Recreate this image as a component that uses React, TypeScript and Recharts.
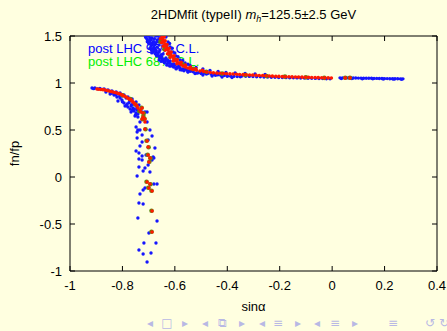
import { ScatterChart, Scatter, XAxis, YAxis, ReferenceArea } from 'recharts'

const X_TICKS = [-1, -0.8, -0.6, -0.4, -0.2, 0, 0.2, 0.4]
const Y_TICKS = [-1, -0.5, 0, 0.5, 1, 1.5]

// post LHC 95% C.L. (blue)
const BLUE_95: [number, number][] = [
  // upper branch, top blob
  [-0.695, 1.479], [-0.683, 1.436], [-0.691, 1.394], [-0.676, 1.362], [-0.683, 1.33], [-0.668, 1.298],
  [-0.657, 1.266], [-0.645, 1.234], [-0.63, 1.202], [-0.615, 1.181], [-0.596, 1.16], [-0.573, 1.138],
  [-0.55, 1.117], [-0.523, 1.101], [-0.493, 1.085], [-0.458, 1.074], [-0.42, 1.064], [-0.382, 1.059],
  [-0.668, 1.457], [-0.66, 1.404], [-0.664, 1.5], [-0.657, 1.351], [-0.645, 1.309], [-0.634, 1.266],
  [-0.618, 1.234], [-0.603, 1.202], [-0.584, 1.181], [-0.561, 1.16], [-0.535, 1.138],
  [-0.634, 1.489], [-0.626, 1.436], [-0.618, 1.383], [-0.607, 1.33], [-0.596, 1.287], [-0.58, 1.245],
  [-0.561, 1.213], [-0.542, 1.186], [-0.519, 1.165], [-0.493, 1.149], [-0.466, 1.133], [-0.435, 1.122],
  [-0.405, 1.112], [-0.37, 1.106], [-0.332, 1.101], [-0.294, 1.096], [-0.256, 1.09],
  [-0.705, 1.46], [-0.7, 1.42], [-0.688, 1.48], [-0.675, 1.41], [-0.672, 1.5], [-0.69, 1.35],
  [-0.665, 1.32], [-0.65, 1.28], [-0.64, 1.25], [-0.625, 1.22], [-0.61, 1.2], [-0.59, 1.17],
  [-0.57, 1.15], [-0.545, 1.13], [-0.51, 1.11], [-0.48, 1.095], [-0.445, 1.082], [-0.4, 1.072],
  [-0.712, 1.49], [-0.7, 1.5], [-0.69, 1.46], [-0.678, 1.47], [-0.697, 1.44], [-0.684, 1.41],
  [-0.672, 1.43], [-0.68, 1.38], [-0.667, 1.38], [-0.671, 1.345], [-0.66, 1.33], [-0.675, 1.31],
  [-0.662, 1.29], [-0.652, 1.3], [-0.648, 1.255], [-0.637, 1.232], [-0.628, 1.245], [-0.62, 1.21],
  [-0.608, 1.185], [-0.6, 1.19], [-0.59, 1.165], [-0.58, 1.16], [-0.565, 1.145], [-0.555, 1.14],
  [-0.54, 1.125], [-0.53, 1.12], [-0.515, 1.105], [-0.5, 1.1],
  [-0.705, 1.44], [-0.708, 1.475], [-0.695, 1.455], [-0.69, 1.42], [-0.695, 1.37], [-0.685, 1.36],
  [-0.678, 1.34], [-0.688, 1.32], [-0.67, 1.29], [-0.658, 1.275], [-0.66, 1.245], [-0.652, 1.23],
  [-0.64, 1.215], [-0.63, 1.19], [-0.62, 1.18], [-0.605, 1.17], [-0.595, 1.15], [-0.58, 1.14],
  [-0.565, 1.13], [-0.55, 1.12], [-0.68, 1.44], [-0.665, 1.44], [-0.66, 1.47], [-0.652, 1.5],
  [-0.62, 1.42], [-0.61, 1.37], [-0.6, 1.32], [-0.588, 1.28], [-0.57, 1.24], [-0.55, 1.2],
  // upper branch, lower edge of the band
  [-0.5, 1.112], [-0.487, 1.106], [-0.475, 1.1], [-0.462, 1.095], [-0.45, 1.09], [-0.437, 1.086],
  [-0.425, 1.082], [-0.412, 1.079], [-0.4, 1.076], [-0.387, 1.073], [-0.375, 1.07], [-0.362, 1.068],
  [-0.35, 1.066],
  [-0.344, 1.074], [-0.33, 1.072], [-0.316, 1.07], [-0.302, 1.069], [-0.288, 1.067], [-0.274, 1.066],
  [-0.26, 1.064], [-0.246, 1.063], [-0.232, 1.061], [-0.218, 1.06], [-0.204, 1.059], [-0.19, 1.058],
  [-0.176, 1.057], [-0.162, 1.056], [-0.148, 1.055], [-0.134, 1.054], [-0.12, 1.053], [-0.106, 1.052],
  [-0.092, 1.051], [-0.078, 1.05], [-0.064, 1.049], [-0.05, 1.048], [-0.036, 1.047], [-0.022, 1.046],
  [-0.008, 1.045],
  // right segment
  [0.03, 1.055], [0.04, 1.055], [0.05, 1.055], [0.06, 1.054], [0.07, 1.054], [0.08, 1.053],
  [0.09, 1.053], [0.1, 1.052], [0.11, 1.052], [0.12, 1.051], [0.13, 1.051], [0.14, 1.05],
  [0.15, 1.05], [0.16, 1.049], [0.17, 1.049], [0.18, 1.048], [0.19, 1.048], [0.2, 1.047],
  [0.21, 1.047], [0.22, 1.046], [0.23, 1.046], [0.24, 1.045], [0.25, 1.045], [0.26, 1.044],
  [0.27, 1.044], [0.035, 1.048], [0.075, 1.047], [0.115, 1.046], [0.155, 1.044], [0.195, 1.043],
  [0.235, 1.041], [0.265, 1.04],
  // lower branch, curved part
  [-0.916, 0.947], [-0.905, 0.947], [-0.886, 0.941], [-0.87, 0.936], [-0.855, 0.926], [-0.84, 0.915],
  [-0.824, 0.904], [-0.809, 0.894], [-0.794, 0.872], [-0.779, 0.851], [-0.763, 0.83], [-0.748, 0.798],
  [-0.737, 0.766], [-0.863, 0.904], [-0.847, 0.883], [-0.832, 0.872], [-0.821, 0.851], [-0.809, 0.84],
  [-0.802, 0.819], [-0.817, 0.809], [-0.794, 0.787], [-0.782, 0.777], [-0.79, 0.755], [-0.779, 0.745],
  [-0.767, 0.755], [-0.771, 0.723], [-0.76, 0.734], [-0.756, 0.702], [-0.767, 0.691], [-0.748, 0.681],
  [-0.752, 0.649], [-0.741, 0.67], [-0.714, 0.691], [-0.706, 0.585], [-0.695, 0.5], [-0.741, 0.5],
  [-0.91, 0.94], [-0.895, 0.938], [-0.878, 0.932], [-0.862, 0.92], [-0.847, 0.91], [-0.832, 0.896],
  [-0.816, 0.885], [-0.8, 0.863], [-0.786, 0.84], [-0.772, 0.81], [-0.757, 0.775], [-0.81, 0.86],
  [-0.825, 0.875], [-0.84, 0.89], [-0.8, 0.8], [-0.785, 0.76], [-0.775, 0.79], [-0.765, 0.77],
  [-0.755, 0.72], [-0.762, 0.71], [-0.745, 0.735], [-0.75, 0.66],
  // lower branch, tail
  [-0.744, 0.713], [-0.725, 0.691], [-0.706, 0.691], [-0.741, 0.638], [-0.721, 0.628], [-0.733, 0.585],
  [-0.748, 0.532], [-0.733, 0.5], [-0.744, 0.479], [-0.725, 0.447], [-0.744, 0.415], [-0.725, 0.372],
  [-0.702, 0.394], [-0.687, 0.436], [-0.733, 0.33], [-0.748, 0.277], [-0.737, 0.255], [-0.725, 0.223],
  [-0.71, 0.234], [-0.683, 0.213], [-0.68, 0.202], [-0.737, 0.191], [-0.725, 0.181], [-0.687, 0.181],
  [-0.676, 0.309], [-0.702, 0.128], [-0.737, 0.106], [-0.714, 0.096], [-0.721, 0.064], [-0.695, 0.053],
  [-0.744, 0.011], [-0.68, -0.074], [-0.668, -0.074], [-0.721, -0.138], [-0.714, -0.117], [-0.733, -0.181],
  [-0.737, -0.277], [-0.721, -0.287], [-0.741, -0.436], [-0.668, -0.468], [-0.699, -0.596], [-0.718, -0.702],
  [-0.672, -0.702], [-0.737, -0.777], [-0.691, -0.809], [-0.721, -0.819], [-0.706, -0.904],
]

// post LHC 68% C.L. (green)
const GREEN_68: [number, number][] = [
  [-0.655, 1.44], [-0.64, 1.36], [-0.62, 1.3], [-0.6, 1.25], [-0.57, 1.2], [-0.53, 1.15],
  [-0.48, 1.12], [-0.42, 1.1], [-0.33, 1.085], [-0.25, 1.075], [-0.18, 1.068], [-0.1, 1.06], [-0.03, 1.055],
  [0.05, 1.056], [0.068, 1.056],
  [-0.8, 0.87], [-0.77, 0.83], [-0.75, 0.77], [-0.735, 0.7], [-0.72, 0.65],
  [-0.727, 0.737], [-0.719, 0.678], [-0.723, 0.614], [-0.716, 0.62], [-0.712, 0.508], [-0.708, 0.386],
  [-0.7, 0.316], [-0.704, 0.237], [-0.693, 0.199], [-0.697, 0.163], [-0.708, -0.05], [-0.693, -0.077],
  [-0.701, -0.114], [-0.689, -0.146], [-0.689, -0.359], [-0.689, -0.582],
]

// best region (red)
const RED_BEST: [number, number][] = [
  // upper branch
  [-0.649, 1.5], [-0.645, 1.457], [-0.638, 1.415], [-0.63, 1.372], [-0.622, 1.33], [-0.611, 1.287],
  [-0.599, 1.245], [-0.584, 1.213], [-0.569, 1.181], [-0.55, 1.16], [-0.531, 1.144], [-0.504, 1.128],
  [-0.641, 1.49], [-0.637, 1.45], [-0.63, 1.41], [-0.622, 1.37], [-0.614, 1.33], [-0.603, 1.29],
  [-0.591, 1.25], [-0.576, 1.22], [-0.56, 1.19], [-0.54, 1.17], [-0.52, 1.15], [-0.495, 1.135],
  [-0.647, 1.478], [-0.642, 1.436], [-0.634, 1.393], [-0.626, 1.351], [-0.617, 1.308], [-0.605, 1.266],
  [-0.592, 1.229], [-0.577, 1.197], [-0.56, 1.17], [-0.541, 1.152], [-0.518, 1.136],
  [-0.655, 1.47], [-0.65, 1.43], [-0.644, 1.39], [-0.636, 1.35], [-0.628, 1.31], [-0.618, 1.27],
  [-0.606, 1.235], [-0.592, 1.205],
  [-0.49, 1.123], [-0.478, 1.117], [-0.465, 1.112], [-0.453, 1.108], [-0.44, 1.105], [-0.428, 1.103],
  [-0.415, 1.101], [-0.403, 1.099], [-0.39, 1.097], [-0.378, 1.095], [-0.365, 1.093], [-0.353, 1.091],
  [-0.34, 1.089], [-0.328, 1.087], [-0.315, 1.085], [-0.303, 1.084], [-0.29, 1.082], [-0.278, 1.08],
  [-0.265, 1.079], [-0.253, 1.077], [-0.24, 1.075], [-0.228, 1.073], [-0.215, 1.071], [-0.203, 1.07],
  [-0.19, 1.068], [-0.178, 1.067], [-0.165, 1.066], [-0.153, 1.065], [-0.14, 1.064], [-0.128, 1.063],
  [-0.115, 1.062], [-0.103, 1.061], [-0.09, 1.06], [-0.078, 1.059], [-0.065, 1.058], [-0.053, 1.057],
  [-0.04, 1.056], [-0.028, 1.055], [-0.015, 1.054], [-0.003, 1.053],
  [0.05, 1.054], [0.068, 1.054],
  // lower branch, curved part
  [-0.897, 0.936], [-0.882, 0.931], [-0.866, 0.926], [-0.851, 0.915], [-0.836, 0.904], [-0.821, 0.894],
  [-0.809, 0.883], [-0.798, 0.867], [-0.786, 0.851], [-0.775, 0.83], [-0.767, 0.819], [-0.76, 0.798],
  [-0.752, 0.777], [-0.744, 0.755], [-0.741, 0.734], [-0.733, 0.713], [-0.729, 0.691], [-0.721, 0.638],
  [-0.714, 0.585],
  [-0.89, 0.934], [-0.874, 0.929], [-0.858, 0.921], [-0.843, 0.91], [-0.828, 0.899], [-0.815, 0.889],
  [-0.803, 0.875], [-0.792, 0.859], [-0.78, 0.841], [-0.771, 0.825], [-0.763, 0.809], [-0.756, 0.788],
  [-0.748, 0.766],
  // lower branch, tail
  [-0.725, 0.734], [-0.721, 0.681], [-0.725, 0.617], [-0.714, 0.617], [-0.714, 0.511], [-0.706, 0.383],
  [-0.702, 0.319], [-0.702, 0.234], [-0.695, 0.202], [-0.699, 0.16], [-0.706, -0.053], [-0.695, -0.074],
  [-0.699, -0.117], [-0.687, -0.149], [-0.687, -0.362], [-0.687, -0.585],
]

const W = 447
const H = 331
const MARGIN = { top: 36, right: 10, bottom: 0, left: 0 }
const Y_AXIS_W = 70
const X_AXIS_H = 60
const PLOT_TOP = MARGIN.top
const PLOT_BOTTOM = H - MARGIN.bottom - X_AXIS_H
const PLOT_LEFT = MARGIN.left + Y_AXIS_W
const PLOT_RIGHT = W - MARGIN.right
const TICK_LEN = 5
const BG = '#ffffe0'
const FONT = '"Liberation Sans", Arial, Helvetica, sans-serif'
const NAV = '#b8b8e4'

const toPoints = (rows: [number, number][]) => rows.map(([x, y]) => ({ x, y }))

const dot = (color: string, r: number) => (p: any) => <circle cx={p.cx} cy={p.cy} r={r} fill={color} />

function XTick({ x, payload }: any) {
  return (
    <g>
      <line x1={x} x2={x} y1={PLOT_BOTTOM} y2={PLOT_BOTTOM - TICK_LEN} stroke="#000" />
      <line x1={x} x2={x} y1={PLOT_TOP} y2={PLOT_TOP + TICK_LEN} stroke="#000" />
      <text x={x} y={PLOT_BOTTOM + 19} textAnchor="middle" fontSize={13} fontFamily={FONT} fill="#000">
        {payload.value}
      </text>
    </g>
  )
}

function YTick({ y, payload }: any) {
  return (
    <g>
      <line x1={PLOT_LEFT} x2={PLOT_LEFT + TICK_LEN} y1={y} y2={y} stroke="#000" />
      <line x1={PLOT_RIGHT} x2={PLOT_RIGHT - TICK_LEN} y1={y} y2={y} stroke="#000" />
      <text x={PLOT_LEFT - 8} y={y + 4.5} textAnchor="end" fontSize={13} fontFamily={FONT} fill="#000">
        {payload.value}
      </text>
    </g>
  )
}

// beamer navigation symbols, bottom right
function NavBar() {
  const glyphs: [number, string][] = [
    [150, '◂'], [167, '□'], [185, '▸'], [205, '◂'], [222, '⧉'], [242, '▸'],
    [262, '◂'], [278, '≡'], [298, '▸'], [317, '◂'], [335, '≡'], [355, '▸'],
    [393, '≡'], [430, '↺'], [444, '↻'],
  ]
  return (
    <g fill={NAV} fontFamily="DejaVu Sans" fontSize={12} textAnchor="middle">
      {glyphs.map(([x, g], i) => (
        <text key={i} x={x} y={327}>{g}</text>
      ))}
    </g>
  )
}

export default function App() {
  return (
    <div style={{ position: 'absolute', left: 0, top: 0, width: W, height: H, background: BG, overflow: 'hidden' }}>
      <svg width={W} height={H} style={{ position: 'absolute', left: 0, top: 0 }}>
        <text x={(PLOT_LEFT + PLOT_RIGHT) / 2} y={19} textAnchor="middle" fontSize={13} fontFamily={FONT} fill="#000">
          2HDMfit (typeII){' '}
          <tspan fontStyle="italic">m</tspan>
          <tspan fontStyle="italic" fontSize={9} dy={3}>h</tspan>
          <tspan dy={-3}>=125.5±2.5 GeV</tspan>
        </text>
        <text x={88} y={53} fontSize={13} fontFamily={FONT} fill="#0000ff">post LHC 95% C.L.</text>
        <text x={88} y={66} fontSize={13} fontFamily={FONT} fill="#00ee00">post LHC 68% C.L.</text>
        <text
          x={0}
          y={0}
          transform={`translate(19, ${(PLOT_TOP + PLOT_BOTTOM) / 2}) rotate(-90)`}
          textAnchor="middle"
          fontSize={13}
          fontFamily={FONT}
          fill="#000"
        >
          fn/fp
        </text>
        <text x={(PLOT_LEFT + PLOT_RIGHT) / 2} y={311} textAnchor="middle" fontSize={13} fontFamily={FONT} fill="#000">
          sinα
        </text>
        <NavBar />
      </svg>
      <div style={{ position: 'absolute', left: 0, top: 0 }}>
        <ScatterChart width={W} height={H} margin={MARGIN}>
          <XAxis
            type="number"
            dataKey="x"
            domain={[-1, 0.4]}
            ticks={X_TICKS}
            interval={0}
            allowDataOverflow
            axisLine={false}
            tickLine={false}
            tickSize={0}
            height={X_AXIS_H}
            tick={<XTick />}
          />
          <YAxis
            type="number"
            dataKey="y"
            domain={[-1, 1.5]}
            ticks={Y_TICKS}
            interval={0}
            allowDataOverflow
            axisLine={false}
            tickLine={false}
            tickSize={0}
            width={Y_AXIS_W}
            tick={<YTick />}
          />
          <ReferenceArea x1={-1} x2={0.4} y1={-1} y2={1.5} fill="none" stroke="#000" strokeWidth={1} />
          <Scatter data={toPoints(BLUE_95)} fill="#0000ff" shape={dot('#1515ff', 1.7)} isAnimationActive={false} />
          <Scatter data={toPoints(GREEN_68)} fill="#00ee00" shape={dot('#5e8a12', 2.3)} isAnimationActive={false} />
          <Scatter data={toPoints(RED_BEST)} fill="#ff0000" shape={dot('#ff1a00', 1.8)} isAnimationActive={false} />
        </ScatterChart>
      </div>
    </div>
  )
}
